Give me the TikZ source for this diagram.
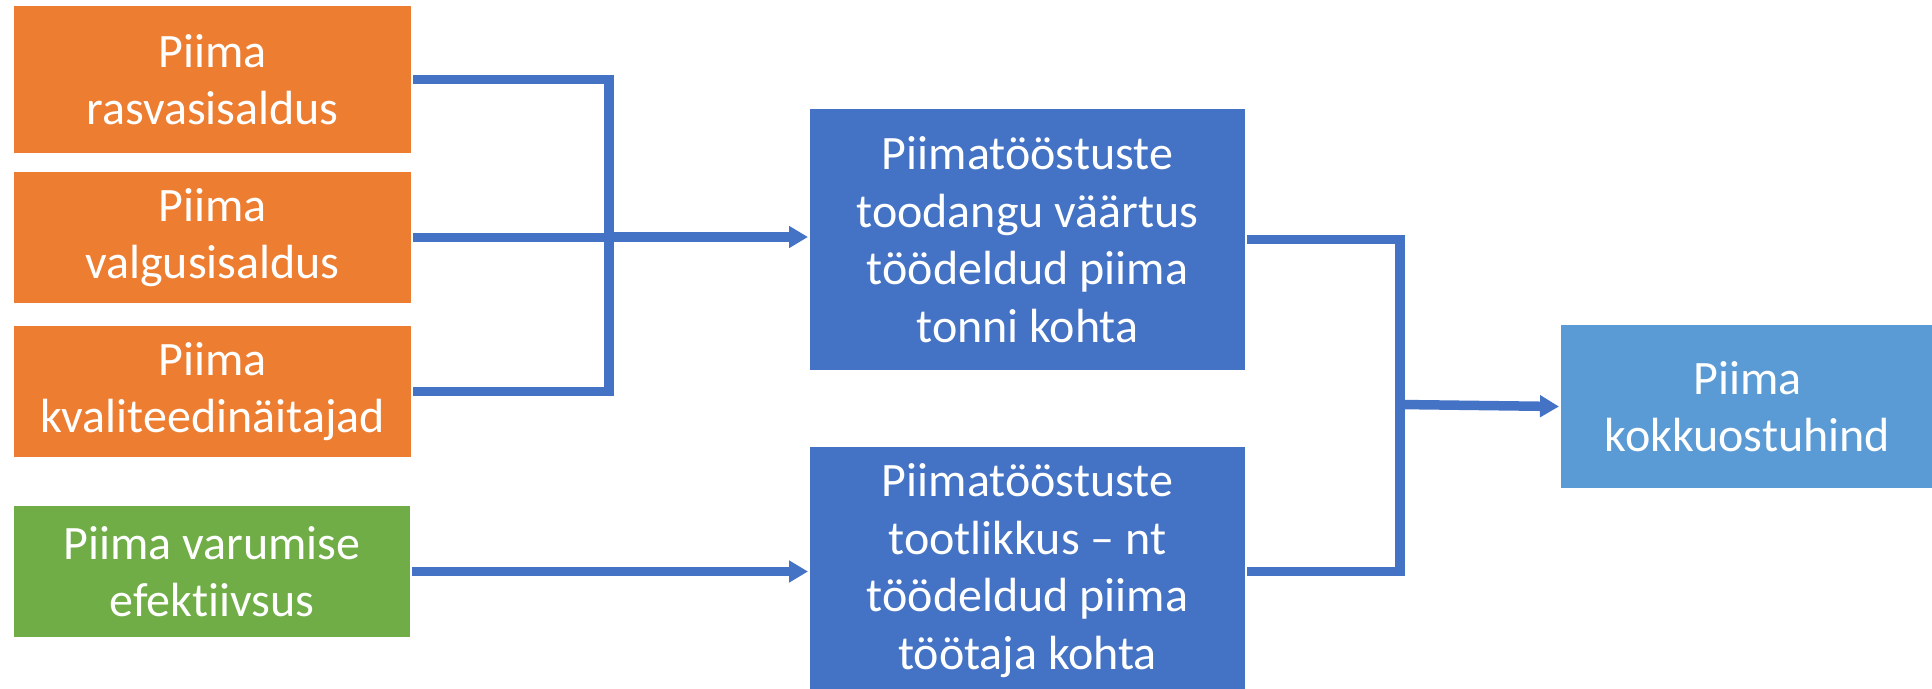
\documentclass[tikz,border=0pt]{standalone}
\usepackage{fontspec}
\setmainfont[Ligatures=NoCommon]{Carlito}
\usetikzlibrary{arrows.meta}
\definecolor{cOrange}{HTML}{ED7D31}
\definecolor{cGreen}{HTML}{70AD47}
\definecolor{cBlue}{HTML}{4472C4}
\definecolor{cLight}{HTML}{5B9BD5}
\definecolor{cLine}{HTML}{4472C4}
\begin{document}
\begin{tikzpicture}[x=1pt,y=-1pt,
  box/.style={anchor=north west, inner sep=0pt, outer sep=2pt, text=white, align=center,
    font=\fontsize{48}{57.5}\selectfont},
  conn/.style={draw=cLine, line width=9.5pt},
  arr/.style={conn, -{Triangle[length=19pt,width=21pt]}}]
\useasboundingbox (0,0) rectangle (1932,688);
\node[box, fill=cOrange, minimum width=397pt, minimum height=147pt] (o1) at (12,4) {Piima\\rasvasisaldus};
\node[box, fill=cOrange, minimum width=397pt, minimum height=131pt] (o2) at (12,170) {Piima\\valgusisaldus};
\node[box, fill=cOrange, minimum width=397pt, minimum height=131pt] (o3) at (12,324) {Piima\\kvaliteedinäitajad};
\node[box, fill=cGreen, minimum width=396pt, minimum height=131pt] (g) at (12,504) {Piima varumise\\efektiivsus};
\node[box, fill=cBlue, minimum width=435pt, minimum height=261pt] (b1) at (808,107) {Piimatööstuste\\toodangu väärtus\\töödeldud piima\\tonni kohta};
\node[box, fill=cBlue, minimum width=435pt, minimum height=247pt] (b2) at (808,445) {Piimatööstuste\\tootlikkus – nt\\töödeldud piima\\töötaja kohta};
\node[box, fill=cLight, minimum width=373pt, minimum height=163pt] (lb) at (1559,323) {Piima\\kokkuostuhind};
\coordinate (j1) at (609,237);
\coordinate (j2) at (1400,404.5);
\draw[conn] (o1.east) -| (j1);
\draw[conn] (o3.east) -| (j1);
\draw[conn] (o2.east) -- (j1 |- o2.east);
\draw[arr] (j1) -- (b1.west |- j1);
\draw[arr] (g.east) -- (b2.west |- g.east);
\draw[conn] (b1.east) -| (j2);
\draw[conn] (b2.east |- g.east) -| (j2);
\draw[arr] (j2) -- (lb.west);
\end{tikzpicture}
\end{document}
